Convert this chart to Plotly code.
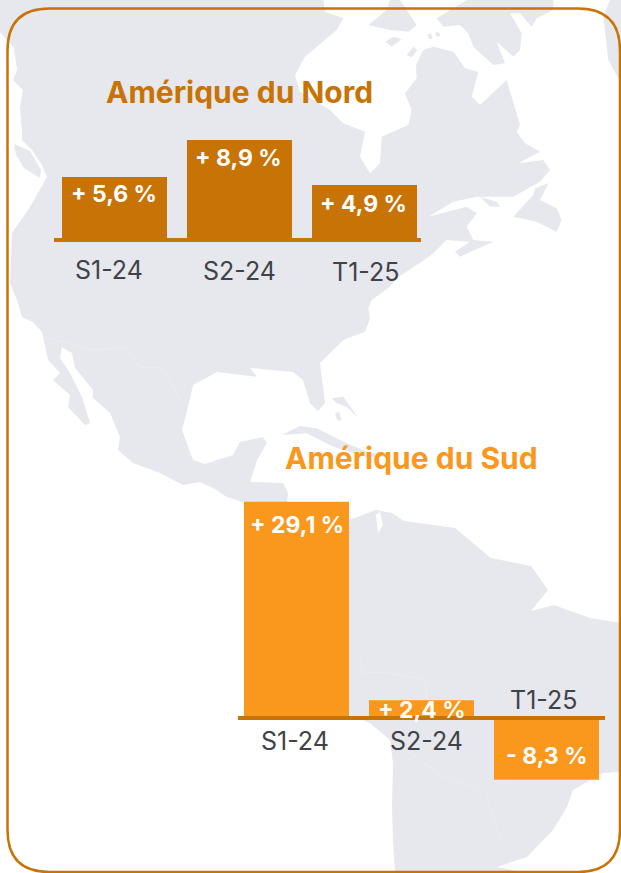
import plotly.graph_objects as go

W, H = 621, 873

# ---- data ----
periods = ["S1-24", "S2-24", "T1-25"]
north_title = "Amérique du Nord"
north_values = [5.6, 8.9, 4.9]
north_labels = ["+ 5,6 %", "+ 8,9 %", "+ 4,9 %"]
south_title = "Amérique du Sud"
south_values = [29.1, 2.4, -8.3]
south_labels = ["+ 29,1 %", "+ 2,4 %", "- 8,3 %"]

# ---- style ----
NORTH_COLOR = "#C87305"
SOUTH_COLOR = "#FA981D"
MAP_COLOR = "#E6E8EE"
TEXT_COLOR = "#3F4347"
FONT = "Inter"


def px(x, y):
    return x / W, 1 - y / H


def z6(pts):
    return [(280 + a / 3, b / 3) for a, b in pts]


def z7(pts):
    return [(300 + a / 3, 200 + b / 3) for a, b in pts]


def z8(pts):
    return [(a / 3, 300 + b / 3) for a, b in pts]


# ---- decorative background map, outlines in page pixels ----
mainland = (
    [(0, 0)]
    + z6([(130, 0), (135, 35), (190, 55), (170, 90), (75, 170), (45, 225), (60, 275), (150, 330),
          (190, 370), (255, 395), (240, 470), (270, 520), (300, 490), (305, 410), (385, 375),
          (395, 330), (375, 280), (410, 235), (408, 195), (430, 150), (460, 140), (520, 155),
          (555, 205), (595, 215), (575, 290), (600, 315), (680, 240), (720, 375), (710, 395),
          (735, 430), (780, 455), (715, 490), (790, 480), (810, 510), (780, 545), (700, 590),
          (590, 590), (520, 605), (445, 650), (560, 620), (590, 640), (560, 680), (580, 720)])
    + z7([(580, 125), (480, 170), (465, 155), (510, 125), (440, 120), (400, 160), (365, 185),
          (290, 235), (270, 260), (215, 300), (205, 325), (210, 355), (195, 395), (130, 420)])
    + [(328, 355), (320, 363), (325, 403), (318, 411), (310, 403), (303, 380), (293, 372),
       (250, 368), (257, 377), (217, 372), (193, 385), (188, 407), (182, 430), (193, 460),
       (205, 464), (233, 455), (240, 442), (263, 437), (267, 443), (257, 460), (250, 482),
       (283, 483), (288, 493), (287, 502), (300, 520), (243, 502), (227, 497), (213, 488),
       (200, 482), (183, 485), (160, 473), (133, 463), (118, 450), (120, 437), (110, 413),
       (93, 398), (93, 390), (75, 368), (72, 353), (62, 347), (60, 358), (70, 373), (82, 397),
       (90, 423), (85, 425), (68, 407), (70, 395), (53, 380), (60, 373), (48, 360), (42, 332),
       (33, 322), (22, 317), (17, 300), (10, 283), (12, 233), (30, 207), (47, 177), (42, 165),
       (32, 150), (22, 140), (22, 133),
       (20, 107), (23, 90), (13, 80), (17, 70), (14, 48), (7, 40), (0, 32)]
)
south_america = [
    (340, 522), (349, 520), (376, 510), (392, 513), (404, 521), (455, 528), (491, 558), (531, 566),
    (548, 590), (531, 611), (554, 605), (590, 618), (621, 623), (621, 772), (603, 773), (573, 790),
    (567, 807), (553, 830), (527, 857), (497, 867), (527, 873), (395, 873), (393, 840), (392, 807),
    (393, 763), (390, 740), (370, 723), (350, 715), (340, 712),
]
islands = [
    z6([(265, 75), (320, 30), (330, 0), (360, 0), (410, 75), (385, 95), (330, 90)]),
    z6([(470, 55), (510, 30), (560, 0), (820, 0), (820, 30), (770, 55), (755, 80), (720, 40), (690, 40),
        (725, 100), (720, 150), (700, 170), (650, 125), (675, 190), (640, 195), (580, 140), (565, 100),
        (540, 75), (490, 80)]),
    z6([(315, 125), (340, 110), (365, 118), (335, 140)]),
    z6([(380, 165), (400, 140), (412, 150), (395, 172)]),
    z6([(442, 105), (452, 100), (458, 115), (448, 118)]),
    z6([(465, 100), (475, 95), (482, 108), (472, 110)]),
    z6([(990, 0), (1023, 0), (1023, 250), (985, 180), (970, 50)]),
    z6([(700, 650), (760, 585), (765, 565), (805, 550), (780, 600), (830, 625), (845, 660), (830, 695),
        (770, 665)]),
    z6([(600, 590), (650, 605), (660, 620), (630, 620)]),
    z8([(845, 405), (900, 378), (950, 385), (1020, 420), (1100, 455), (1170, 470), (1100, 470),
        (1000, 440), (920, 400)]),
    z8([(995, 295), (1030, 290), (1075, 355), (1040, 320), (1010, 310)]),
    z8([(1005, 340), (1018, 335), (1025, 362), (1012, 360)]),
    z8([(1070, 655), (1130, 630), (1145, 650), (1175, 640), (1200, 660)]),
    [(14, 144), (30, 151), (41, 170), (40, 178), (24, 168), (16, 155)],
]
map_water = [[(380, 512), (383, 525), (378, 533), (376, 515)]]
map_borders = [
    [(43, 336), (90, 350), (127, 348), (140, 368), (163, 368), (180, 400)],
    [(360, 655), (362, 672), (385, 672), (425, 680), (428, 705)],
    [(400, 745), (440, 775), (485, 790), (500, 840)],
]


def path(points, close=True):
    parts = []
    for i, (x, y) in enumerate(points):
        a, b = px(x, y)
        parts.append(("M" if i == 0 else "L") + f"{a:.5f},{b:.5f}")
    return " ".join(parts) + (" Z" if close else "")


shapes = []
for poly in [mainland, south_america] + islands:
    shapes.append(dict(type="path", xref="paper", yref="paper", path=path(poly), layer="below",
                       fillcolor=MAP_COLOR, line=dict(width=0)))
for poly in map_water:
    shapes.append(dict(type="path", xref="paper", yref="paper", path=path(poly), layer="below",
                       fillcolor="white", line=dict(width=0)))
for line in map_borders:
    shapes.append(dict(type="path", xref="paper", yref="paper", path=path(line, False), layer="below",
                       line=dict(color="#EBEDF2", width=1)))

# card border
x0, y0, x1, y1, r = 7.5, 8.5, 620, 872, 42
a0, b0 = px(x0, y0)
a1, b1 = px(x1, y1)
rx, ry = r / W, r / H
shapes.append(dict(
    type="path", xref="paper", yref="paper", layer="above",
    path=(f"M{a0+rx:.5f},{b0:.5f} L{a1-rx:.5f},{b0:.5f} Q{a1:.5f},{b0:.5f} {a1:.5f},{b0-ry:.5f} "
          f"L{a1:.5f},{b1+ry:.5f} Q{a1:.5f},{b1:.5f} {a1-rx:.5f},{b1:.5f} "
          f"L{a0+rx:.5f},{b1:.5f} Q{a0:.5f},{b1:.5f} {a0:.5f},{b1+ry:.5f} "
          f"L{a0:.5f},{b0-ry:.5f} Q{a0:.5f},{b0:.5f} {a0+rx:.5f},{b0:.5f} Z"),
    line=dict(color=NORTH_COLOR, width=2.5),
))

# baselines on top of the bars
for ax in ("x", "x2"):
    shapes.append(dict(type="line", xref=f"{ax} domain", yref=ax.replace("x", "y"), x0=0, x1=1, y0=0, y1=0,
                       layer="above", line=dict(color=NORTH_COLOR, width=4)))

fig = go.Figure()
fig.add_trace(go.Bar(x=periods, y=north_values, marker=dict(color=NORTH_COLOR, line=dict(width=0)),
                     xaxis="x", yaxis="y", showlegend=False, hoverinfo="skip"))
fig.add_trace(go.Bar(x=periods, y=south_values, marker=dict(color=SOUTH_COLOR, line=dict(width=0)),
                     xaxis="x2", yaxis="y2", showlegend=False, hoverinfo="skip"))

annotations = []


def note(text, xref, yref, x, y, size, color, weight=400, xshift=0, yshift=0):
    annotations.append(dict(text=text, xref=xref, yref=yref, x=x, y=y, xanchor="center", yanchor="middle",
                            showarrow=False, xshift=xshift, yshift=yshift,
                            font=dict(family=FONT, size=size, color=color, weight=weight)))


note(north_title, "paper", "paper", px(239, 0)[0], px(0, 92)[1], 30, NORTH_COLOR, 700)
note(south_title, "paper", "paper", px(412, 0)[0], px(0, 458)[1], 30, SOUTH_COLOR, 700)

north_tick_shift = [(-6, -30), (0, -31), (1, -32)]
for cat, val, lab, ys, (tx, ty) in zip(periods, north_values, north_labels, [-17, -18, -19], north_tick_shift):
    note(lab, "x", "y", cat, val, 23, "white", 700, xshift=-1, yshift=ys)
    note(cat, "x", "y", cat, 0, 25, TEXT_COLOR, 400, xshift=tx, yshift=ty)

south_tick_shift = [(-2, -23), (5, -23), (-3, 18)]
for cat, val, lab, ys, (tx, ty) in zip(periods, south_values, south_labels, [-23, -10, 24], south_tick_shift):
    note(lab, "x2", "y2", cat, val, 23, "white", 700, yshift=ys)
    note(cat, "x2", "y2", cat, 0, 25, TEXT_COLOR, 400, xshift=tx, yshift=ty)

hidden = dict(showgrid=False, zeroline=False, showticklabels=False, ticks="", showline=False, fixedrange=True)

fig.update_layout(
    width=W, height=H, margin=dict(l=0, r=0, t=0, b=0), autosize=False,
    paper_bgcolor="white", plot_bgcolor="rgba(0,0,0,0)",
    bargap=0.16, showlegend=False, shapes=shapes, annotations=annotations,
    xaxis=dict(domain=[54 / W, 421 / W], range=[-0.484, 2.452], type="category", **hidden),
    yaxis=dict(domain=[1 - 260 / H, 1 - 120 / H], range=[-20 / 11.24, 120 / 11.24], **hidden),
    xaxis2=dict(domain=[238 / W, 605 / W], range=[-0.468, 2.468], type="category", anchor="y2", **hidden),
    yaxis2=dict(domain=[1 - 790 / H, 1 - 490 / H], range=[-72 / 7.43, 228 / 7.43], anchor="x2", **hidden),
)

fig.write_html("out.html", config=dict(displayModeBar=False),
               post_script="document.body.style.margin='0';document.body.style.overflow='hidden';")
